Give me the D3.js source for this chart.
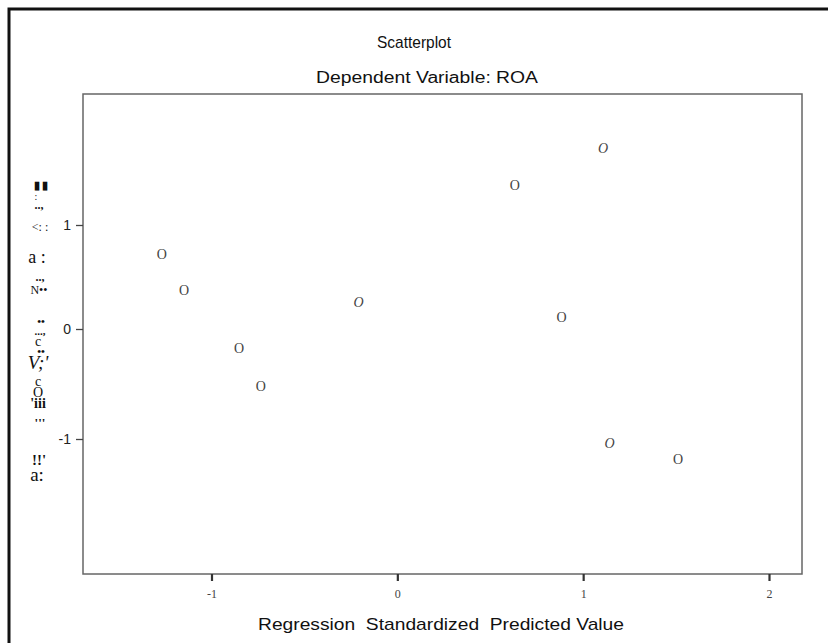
<!DOCTYPE html>
<html>
<head>
<meta charset="utf-8">
<script src="https://cdn.jsdelivr.net/npm/d3@7"></script>
<style>
  body { margin: 0; background: #fff; }
  svg { display: block; }
</style>
</head>
<body>
<div id="chart"></div>
<script>
// chart values
const xTicks = [-1, 0, 1, 2];
const yTicks = [1, 0, -1];
const predicted = [-1.267, -1.147, -0.852, -0.735, -0.209, 0.632, 1.107, 0.884, 1.142, 1.51];
const residual = [0.72, 0.375, -0.18, -0.525, 0.253, 1.38, 1.74, 0.11, -1.04, -1.19];
const title = "Scatterplot";
const subtitle = "Dependent Variable: ROA";
const xTitle = "Regression  Standardized  Predicted Value";
// the rotated y label came out of the scan as broken glyphs
const yLabelBits = ["▮ ▮", ":", "..,", "<: :", "a :", "..,", "N••", "••", "...,", "c", "••", "V;'", "c", "O", "'iii", "'''", "!!'", "a:"];

const W = 828, H = 643;
const box = {left: 83, top: 94, right: 802, bottom: 574};

const svg = d3.select("#chart").append("svg")
    .attr("width", W)
    .attr("height", H);

// outer frame, runs off the right and bottom edge like the scan
svg.append("rect")
    .attr("x", 9).attr("y", 9)
    .attr("width", 860).attr("height", 700)
    .attr("fill", "none")
    .attr("stroke", "#111")
    .attr("stroke-width", 3);

const x = d3.scaleLinear()
    .domain([-1, 2])
    .range([211.5, 769]);

const y = d3.scaleLinear()
    .domain([-1, 0, 1])
    .range([439, 329, 225]);

// titles (the scan stretched them unevenly, so pin their widths)
svg.append("text")
    .attr("x", 414).attr("y", 48)
    .attr("text-anchor", "middle")
    .attr("textLength", 74)
    .attr("lengthAdjust", "spacingAndGlyphs")
    .style("font-family", "Liberation Sans, Arial, sans-serif")
    .style("font-size", "17px")
    .attr("fill", "#111")
    .text(title);

svg.append("text")
    .attr("x", 427).attr("y", 83)
    .attr("text-anchor", "middle")
    .attr("textLength", 222)
    .attr("lengthAdjust", "spacingAndGlyphs")
    .style("font-family", "Liberation Sans, Arial, sans-serif")
    .style("font-size", "16px")
    .attr("fill", "#111")
    .text(subtitle);

// plot frame
svg.append("rect")
    .attr("x", box.left).attr("y", box.top)
    .attr("width", box.right - box.left)
    .attr("height", box.bottom - box.top)
    .attr("fill", "none")
    .attr("stroke", "#666")
    .attr("stroke-width", 1.5);

// x axis
let xAxis = svg.append("g")
    .attr("transform", `translate(0, ${box.bottom})`)
    .call(d3.axisBottom(x).tickValues(xTicks).tickSize(7).tickFormat(d => String(d)));
xAxis.select(".domain").remove();
xAxis.selectAll(".tick line").attr("stroke", "#333").attr("stroke-width", 2.2);
xAxis.selectAll(".tick text")
    .attr("dy", "1.2em")
    .style("font-family", "Liberation Serif, Times New Roman, serif")
    .style("font-size", "12px")
    .attr("fill", "#444");

svg.append("text")
    .attr("x", 441).attr("y", 630)
    .attr("text-anchor", "middle")
    .attr("textLength", 366)
    .attr("lengthAdjust", "spacingAndGlyphs")
    .style("font-family", "Liberation Sans, Arial, sans-serif")
    .style("font-size", "17px")
    .style("white-space", "pre")
    .attr("fill", "#111")
    .text(xTitle);

// y axis
let yAxis = svg.append("g")
    .attr("transform", `translate(${box.left}, 0)`)
    .call(d3.axisLeft(y).tickValues(yTicks).tickSize(7).tickPadding(5).tickFormat(d => String(d)));
yAxis.select(".domain").remove();
yAxis.selectAll(".tick line").attr("stroke", "#444").attr("stroke-width", 1.3);
yAxis.selectAll(".tick text")
    .style("font-family", "Liberation Sans, Arial, sans-serif")
    .style("font-size", "14px")
    .attr("fill", "#222");

// broken y label glyphs, one text with a tspan per fragment
const bitY = [185, 196, 205, 227, 257, 277, 290, 321, 331, 341, 351, 362, 381, 392, 403, 422, 460, 474];
const bitX = [41, 36, 39, 40, 37, 40, 39, 41, 40, 38, 41, 38, 38, 38, 38, 40, 39, 37];
const bitSize = [11, 10, 12, 12, 18, 12, 12, 11, 11, 14, 11, 19, 14, 14, 14, 13, 15, 19];
const bitBold = [0, 2, 5, 7, 8, 10, 14, 15, 16];
svg.append("text")
    .attr("text-anchor", "middle")
    .attr("dominant-baseline", "central")
    .style("font-family", "Liberation Serif, Times New Roman, serif")
    .attr("fill", "#111")
  .selectAll("tspan")
    .data(yLabelBits)
    .enter().append("tspan")
    .attr("x", (d, i) => bitX[i])
    .attr("y", (d, i) => bitY[i])
    .style("font-size", (d, i) => bitSize[i] + "px")
    .style("font-weight", (d, i) => bitBold.includes(i) ? "bold" : "normal")
    .style("font-style", (d, i) => i === 11 ? "italic" : "normal")
    .text(d => d);

// points, drawn as "O" glyphs like the scan; a few came out slanted
const slanted = [4, 6, 8];
const pts = predicted.map((v, i) => ({x: v, y: residual[i], i: i}));
svg.append("g").selectAll("text")
    .data(pts)
    .enter().append("text")
    .attr("x", d => x(d.x))
    .attr("y", d => y(d.y))
    .attr("text-anchor", "middle")
    .attr("dominant-baseline", "central")
    .style("font-family", "Liberation Serif, Times New Roman, serif")
    .style("font-size", "14px")
    .style("font-style", d => slanted.includes(d.i) ? "italic" : "normal")
    .attr("fill", "#444")
    .text("O");
</script>
</body>
</html>
